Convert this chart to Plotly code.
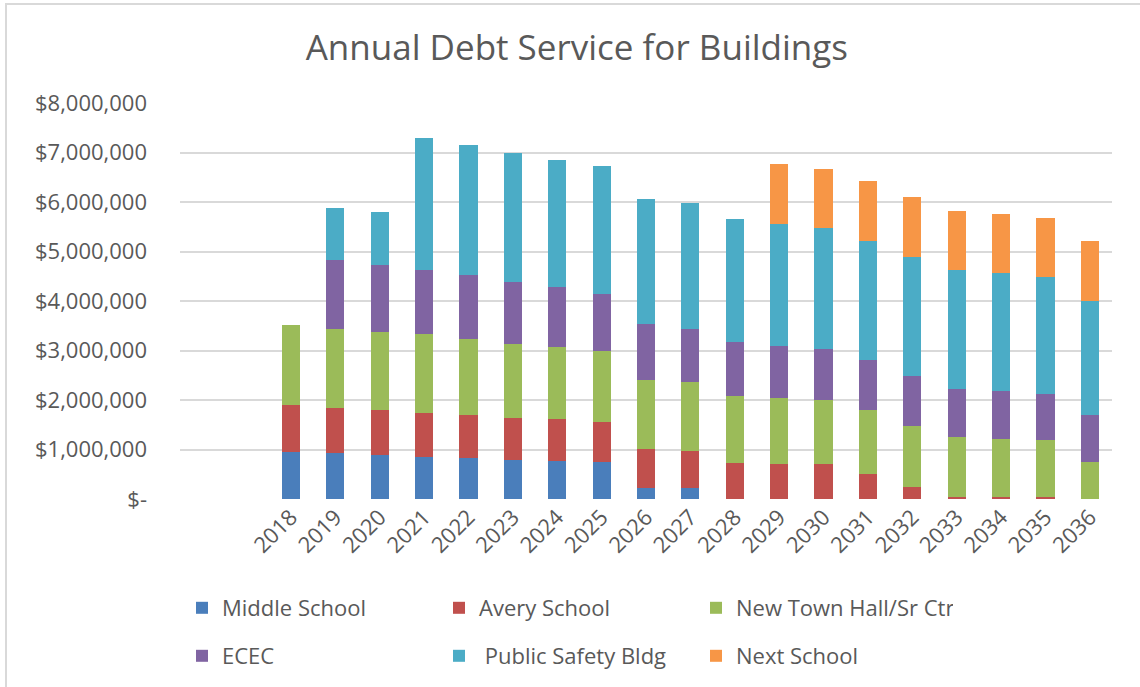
import plotly.graph_objects as go

years = [str(y) for y in range(2018, 2037)]

middle_school = [0.95, 0.92, 0.89, 0.85, 0.83, 0.79, 0.76, 0.74, 0.23, 0.23,
                 0, 0, 0, 0, 0, 0, 0, 0, 0]
avery_school = [0.94, 0.92, 0.90, 0.89, 0.86, 0.85, 0.85, 0.82, 0.78, 0.74,
                0.73, 0.71, 0.70, 0.50, 0.25, 0.05, 0.05, 0.05, 0]
new_town_hall = [1.63, 1.60, 1.59, 1.59, 1.55, 1.50, 1.46, 1.42, 1.40, 1.40,
                 1.35, 1.33, 1.30, 1.29, 1.23, 1.21, 1.17, 1.14, 0.75]
ecec = [0, 1.39, 1.34, 1.29, 1.28, 1.24, 1.21, 1.17, 1.12, 1.07,
        1.09, 1.05, 1.03, 1.01, 1.01, 0.97, 0.96, 0.94, 0.94]
public_safety = [0, 1.05, 1.07, 2.67, 2.64, 2.62, 2.57, 2.57, 2.54, 2.53,
                 2.48, 2.47, 2.45, 2.41, 2.40, 2.39, 2.39, 2.35, 2.32]
next_school = [0, 0, 0, 0, 0, 0, 0, 0, 0, 0,
               0, 1.21, 1.19, 1.22, 1.21, 1.19, 1.19, 1.20, 1.20]

series = [
    ("Middle School", middle_school, "#4A7EBB", "legend"),
    ("Avery School", avery_school, "#C0504D", "legend"),
    ("New Town Hall/Sr Ctr", new_town_hall, "#9BBB59", "legend"),
    ("ECEC", ecec, "#8064A2", "legend2"),
    ("\u00a0Public Safety Bldg", public_safety, "#4BACC6", "legend2"),
    ("Next School", next_school, "#F79646", "legend2"),
]

tick_vals = [0, 1e6, 2e6, 3e6, 4e6, 5e6, 6e6, 7e6, 8e6]
tick_text = ["$-", "$1,000,000", "$2,000,000", "$3,000,000", "$4,000,000",
             "$5,000,000", "$6,000,000", "$7,000,000", "$8,000,000"]

FONT = "Open Sans, Lato, sans-serif"
GREY = "#595959"

fig = go.Figure()
for name, vals, color, lg in series:
    fig.add_trace(go.Bar(
        x=years, y=[v * 1e6 for v in vals], name=name, legend=lg,
        marker=dict(color=color, line=dict(width=0)),
    ))

L, R, T, B = 180, 28, 103, 188
W, H = 1140, 687
pw = W - L - R
ph = H - T - B

def px_x(p):
    return (p - L) / pw

def px_y(p):
    return (H - B - p) / ph

legend_common = dict(orientation="h", x=px_x(182), xanchor="left",
                     yanchor="top", entrywidth=212, entrywidthmode="pixels",
                     traceorder="normal", bgcolor="rgba(0,0,0,0)",
                     font=dict(size=22, color=GREY), itemclick=False)

fig.update_layout(
    width=W, height=H,
    margin=dict(l=L, r=R, t=T, b=B, pad=0, autoexpand=False),
    barmode="stack",
    bargap=0.59,
    paper_bgcolor="white",
    plot_bgcolor="white",
    font=dict(family=FONT, color=GREY, size=22),
    title=dict(text="Annual Debt Service for Buildings", x=0.506, xref="container",
               xanchor="center", y=1 - 48 / H, yanchor="middle",
               font=dict(family=FONT, size=35, color=GREY)),
    xaxis=dict(type="category", range=[-2.5, 18.5], tickangle=-45,
               showgrid=False, showline=False, ticks="", zeroline=False,
               automargin=False, tickfont=dict(size=22, color=GREY)),
    yaxis=dict(range=[0, 8e6], tickvals=tick_vals, ticktext=tick_text,
               showgrid=True, gridcolor="#D9D9D9", gridwidth=2,
               zeroline=False, showline=False, ticks="", automargin=False,
               ticklabelstandoff=32, tickfont=dict(size=22, color=GREY)),
    legend=dict(y=px_y(587), **legend_common),
    legend2=dict(y=px_y(635), **legend_common),
    shapes=[dict(type="rect", xref="paper", yref="paper",
                 x0=px_x(6), x1=px_x(1150), y0=px_y(700), y1=px_y(4),
                 line=dict(color="#D9D9D9", width=2), fillcolor="rgba(0,0,0,0)",
                 layer="below")],
)

fig.write_html("out.html")
